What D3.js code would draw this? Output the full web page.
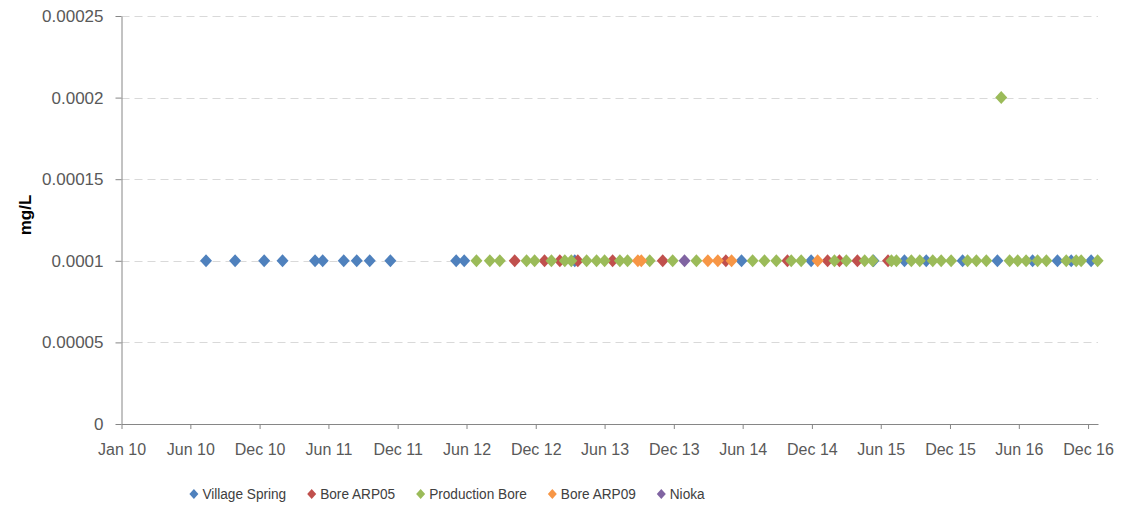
<!DOCTYPE html>
<html>
<head>
<meta charset="utf-8">
<script src="https://cdn.jsdelivr.net/npm/d3@7"></script>
<style>
  html, body { margin: 0; padding: 0; background: #ffffff; }
  svg { display: block; }
  text { font-family: "Liberation Sans", Arial, sans-serif; }
</style>
</head>
<body>
<svg id="chart" width="1126" height="512"></svg>
<script>
// Sampling dates (all results at 0.0001 mg/L unless noted)
const villageSpring = [
  ["2010-08-10", 0.0001], ["2010-10-25", 0.0001], ["2011-01-09", 0.0001], ["2011-02-26", 0.0001],
  ["2011-05-22", 0.0001], ["2011-06-11", 0.0001], ["2011-08-05", 0.0001], ["2011-09-08", 0.0001],
  ["2011-10-12", 0.0001], ["2011-12-05", 0.0001], ["2012-05-25", 0.0001], ["2012-06-15", 0.0001],
  ["2013-03-31", 0.0001], ["2014-06-10", 0.0001], ["2014-12-09", 0.0001], ["2015-05-21", 0.0001],
  ["2015-08-10", 0.0001], ["2015-10-06", 0.0001], ["2016-01-09", 0.0001], ["2016-04-09", 0.0001],
  ["2016-07-10", 0.0001], ["2016-09-13", 0.0001], ["2016-10-19", 0.0001], ["2016-12-10", 0.0001]
];
const boreARP05 = [
  ["2012-10-25", 0.0001], ["2013-01-11", 0.0001], ["2013-02-20", 0.0001], ["2013-04-08", 0.0001],
  ["2013-07-08", 0.0001], ["2013-11-16", 0.0001], ["2014-04-30", 0.0001], ["2014-10-08", 0.0001],
  ["2015-01-21", 0.0001], ["2015-02-21", 0.0001], ["2015-04-09", 0.0001], ["2015-06-28", 0.0001]
];
const productionBore = [
  ["2012-07-17", 0.0001], ["2012-08-21", 0.0001], ["2012-09-16", 0.0001], ["2012-11-25", 0.0001],
  ["2012-12-16", 0.0001], ["2013-01-29", 0.0001], ["2013-03-05", 0.0001], ["2013-03-22", 0.0001],
  ["2013-05-01", 0.0001], ["2013-05-27", 0.0001], ["2013-06-17", 0.0001], ["2013-07-27", 0.0001],
  ["2013-08-16", 0.0001], ["2013-10-13", 0.0001], ["2013-12-12", 0.0001], ["2014-02-12", 0.0001],
  ["2014-07-09", 0.0001], ["2014-08-09", 0.0001], ["2014-09-09", 0.0001], ["2014-10-18", 0.0001],
  ["2014-11-13", 0.0001], ["2015-02-08", 0.0001], ["2015-03-11", 0.0001], ["2015-04-28", 0.0001],
  ["2015-05-19", 0.0001], ["2015-07-07", 0.0001], ["2015-07-20", 0.0001], ["2015-08-28", 0.0001],
  ["2015-09-19", 0.0001], ["2015-10-23", 0.0001], ["2015-11-14", 0.0001], ["2015-12-10", 0.0001],
  ["2016-01-22", 0.0001], ["2016-02-14", 0.0001], ["2016-03-11", 0.0001], ["2016-04-19", 0.0002],
  ["2016-05-11", 0.0001], ["2016-06-01", 0.0001], ["2016-06-23", 0.0001], ["2016-07-23", 0.0001],
  ["2016-08-15", 0.0001], ["2016-10-06", 0.0001], ["2016-11-01", 0.0001], ["2016-11-14", 0.0001],
  ["2016-12-27", 0.0001]
];
const boreARP09 = [
  ["2013-09-12", 0.0001], ["2013-09-21", 0.0001], ["2014-03-14", 0.0001], ["2014-04-09", 0.0001],
  ["2014-05-15", 0.0001], ["2014-12-26", 0.0001]
];
const nioka = [
  ["2014-01-12", 0.0001]
];

const seriesNames = ["Village Spring", "Bore ARP05", "Production Bore", "Bore ARP09", "Nioka"];
const seriesColors = ["#4F81BD", "#C0504D", "#9BBB59", "#F79646", "#8064A2"];
const seriesData = [villageSpring, boreARP05, productionBore, boreARP09, nioka];

const yTicks = [0, 0.00005, 0.0001, 0.00015, 0.0002, 0.00025];
const yTickLabels = ["0", "0.00005", "0.0001", "0.00015", "0.0002", "0.00025"];
const xTickDates = ["2010-01-01", "2010-06-30", "2010-12-28", "2011-06-26", "2011-12-24",
  "2012-06-21", "2012-12-19", "2013-06-17", "2013-12-15", "2014-06-13", "2014-12-11",
  "2015-06-09", "2015-12-07", "2016-06-04", "2016-12-02"];
const xTickLabels = ["Jan 10", "Jun 10", "Dec 10", "Jun 11", "Dec 11", "Jun 12", "Dec 12",
  "Jun 13", "Dec 13", "Jun 14", "Dec 14", "Jun 15", "Dec 15", "Jun 16", "Dec 16"];
const yTitle = "mg/L";

const parse = d3.utcParse("%Y-%m-%d");
const svg = d3.select("#chart");

const plot = { left: 121.5, right: 1098, top: 16, bottom: 424 };

const x = d3.scaleUtc()
  .domain([parse("2010-01-01"), parse("2016-12-28")])
  .range([plot.left, plot.right]);
const y = d3.scaleLinear()
  .domain([0, 0.00025])
  .range([plot.bottom, plot.top]);

// Horizontal dashed gridlines
svg.append("g")
  .selectAll("line")
  .data(yTicks.filter(v => v > 0))
  .join("line")
  .attr("x1", plot.left)
  .attr("x2", plot.right)
  .attr("y1", d => Math.round(y(d)) + 0.5)
  .attr("y2", d => Math.round(y(d)) + 0.5)
  .attr("stroke", "#D9D9D9")
  .attr("stroke-width", 1)
  .attr("stroke-dasharray", "8,5");

// Y axis
const yAxis = d3.axisLeft(y)
  .tickValues(yTicks)
  .tickFormat((d, i) => yTickLabels[i])
  .tickSize(6)
  .tickSizeOuter(0)
  .tickPadding(12);
const gy = svg.append("g")
  .attr("transform", `translate(${plot.left},0)`)
  .call(yAxis);
gy.select(".domain").attr("stroke", "#868686");
gy.selectAll(".tick line").attr("stroke", "#868686");
gy.selectAll(".tick text")
  .attr("fill", "#595959")
  .style("font-size", "17px")
  .style("font-family", "'Liberation Sans', Arial, sans-serif");

// X axis
const xAxis = d3.axisBottom(x)
  .tickValues(xTickDates.map(parse))
  .tickFormat((d, i) => xTickLabels[i])
  .tickSize(5)
  .tickSizeOuter(0)
  .tickPadding(15);
const gx = svg.append("g")
  .attr("transform", `translate(0,${plot.bottom})`)
  .call(xAxis);
gx.select(".domain").attr("stroke", "#868686");
gx.selectAll(".tick line").attr("stroke", "#868686");
gx.selectAll(".tick text")
  .attr("fill", "#595959")
  .style("font-size", "16px")
  .style("font-family", "'Liberation Sans', Arial, sans-serif");

// Y axis title
svg.append("text")
  .attr("transform", `translate(31,${(plot.top + plot.bottom) / 2 - 5}) rotate(-90)`)
  .attr("text-anchor", "middle")
  .attr("fill", "#000000")
  .style("font-size", "17px")
  .style("font-weight", "bold")
  .text(yTitle);

// Diamond markers
const diamond = (w, h) => `M0,${-h / 2}L${w / 2},0L0,${h / 2}L${-w / 2},0Z`;
seriesData.forEach((data, si) => {
  svg.append("g")
    .selectAll("path")
    .data(data)
    .join("path")
    .attr("d", diamond(12, 13))
    .attr("transform", d => `translate(${x(parse(d[0]))},${y(d[1])})`)
    .attr("fill", seriesColors[si]);
});

// Legend (labels slightly condensed horizontally)
const legend = svg.append("g");
const squeeze = 0.88;
let cursor = 0;
seriesNames.forEach((name, i) => {
  const item = legend.append("g").attr("transform", `translate(${cursor},0)`);
  item.append("path")
    .attr("d", diamond(9, 10))
    .attr("transform", "translate(4.5,0)")
    .attr("fill", seriesColors[i]);
  const t = item.append("text")
    .attr("transform", `translate(13,0) scale(${squeeze},1)`)
    .attr("dy", "0.35em")
    .attr("fill", "#404040")
    .style("font-size", "15.5px")
    .text(name);
  cursor += 13 + t.node().getComputedTextLength() * squeeze + 21;
});
const legendWidth = cursor - 21;
legend.attr("transform", `translate(${447 - legendWidth / 2},494)`);
</script>
</body>
</html>
